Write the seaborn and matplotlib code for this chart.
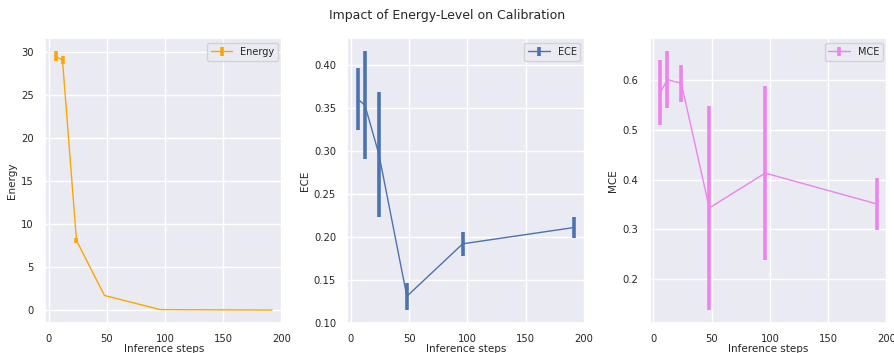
import matplotlib
matplotlib.use('Agg')
import matplotlib.pyplot as plt
import seaborn as sns

sns.set_theme(style='darkgrid')
plt.rcParams['font.family'] = ['DejaVu Sans']

steps = [6, 12, 24, 48, 96, 192]

energy = [29.55, 29.1, 8.1, 1.7, 0.05, 0.0]
energy_err = [0.6, 0.45, 0.3, 0.0, 0.0, 0.0]

ece = [0.360, 0.353, 0.296, 0.131, 0.192, 0.211]
ece_err = [0.036, 0.063, 0.073, 0.016, 0.014, 0.012]

mce = [0.575, 0.601, 0.593, 0.343, 0.413, 0.351]
mce_err = [0.065, 0.057, 0.037, 0.205, 0.174, 0.052]

panels = [
    ('Energy', energy, energy_err, 'orange'),
    ('ECE', ece, ece_err, '#4c72b0'),
    ('MCE', mce, mce_err, 'violet'),
]

fig, axes = plt.subplots(1, 3, figsize=(8.94, 3.53), dpi=100)
fig.subplots_adjust(left=0.05, right=0.993, bottom=0.085, top=0.892, wspace=0.27)

for ax, (name, vals, errs, color) in zip(axes, panels):
    ax.errorbar(steps, vals, yerr=errs, color=color, linewidth=1.0,
                elinewidth=2.6, label=name)
    # label sits at the bottom edge, as in the original figure
    ax.set_xlabel('Inference steps', fontsize=7.5, labelpad=0)
    ax.set_ylabel(name, fontsize=7.5, labelpad=3)
    ax.tick_params(labelsize=7.2, pad=2)
    ax.set_xticks([0, 50, 100, 150, 200])
    ax.legend(loc='upper right', fontsize=7, handlelength=2.2, borderpad=0.4)

axes[0].set_yticks([0, 5, 10, 15, 20, 25, 30])
axes[1].set_yticks([0.10, 0.15, 0.20, 0.25, 0.30, 0.35, 0.40])
axes[2].set_yticks([0.2, 0.3, 0.4, 0.5, 0.6])

fig.suptitle('Impact of Energy-Level on Calibration', fontsize=9, y=0.975)
fig.savefig('out.png', dpi=100)
